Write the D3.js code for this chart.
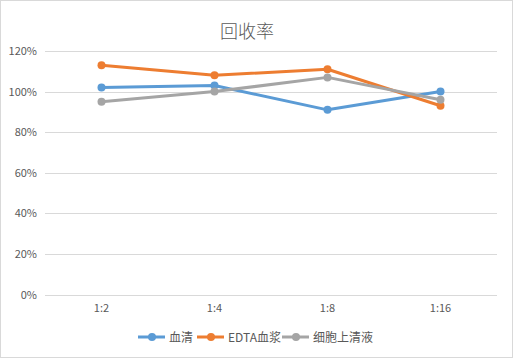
<!DOCTYPE html>
<html>
<head>
<meta charset="utf-8">
<script src="https://cdn.jsdelivr.net/npm/d3@7"></script>
<style>
  body { margin: 0; background: #fff; }
  text { font-family: "Noto Sans CJK SC", "Noto Sans", sans-serif; fill: #595959; }
</style>
</head>
<body>
<div class="container"></div>
<script>
var categories = ["1:2", "1:4", "1:8", "1:16"];
var seriesNames = ["血清", "EDTA血浆", "细胞上清液"];
var serum = [102, 103, 91, 100];
var plasma = [113, 108, 111, 93];
var supernatant = [95, 100, 107, 96];
var yTicks = [0, 20, 40, 60, 80, 100, 120];
var colors = ["#5b9bd5", "#ed7d31", "#a5a5a5"];

var series = [serum, plasma, supernatant];

var W = 513, H = 358;
var svg = d3.select(".container").append("svg")
  .attr("width", W).attr("height", H);

svg.append("rect")
  .attr("x", 0.5).attr("y", 0.5)
  .attr("width", W - 1).attr("height", H - 1)
  .attr("fill", "#fff").attr("stroke", "#d9d9d9");

var x = d3.scaleBand().domain(categories).range([45, 497]);
var y = d3.scaleLinear().domain([0, 120]).range([294.5, 51]);

// gridlines
svg.append("g")
  .selectAll("line")
  .data(yTicks)
  .enter().append("line")
  .attr("x1", 45).attr("x2", 497)
  .attr("y1", d => Math.round(y(d)) + 0.5)
  .attr("y2", d => Math.round(y(d)) + 0.5)
  .attr("stroke", "#d9d9d9")
  .attr("stroke-width", 1);

// y labels
svg.append("g")
  .selectAll("text")
  .data(yTicks)
  .enter().append("text")
  .attr("x", 37)
  .attr("y", d => y(d) + 4)
  .attr("text-anchor", "end")
  .style("font-size", "11px")
  .text(d => d + "%");

// x labels
svg.append("g")
  .selectAll("text")
  .data(categories)
  .enter().append("text")
  .attr("x", d => x(d) + x.bandwidth() / 2)
  .attr("y", 312)
  .attr("text-anchor", "middle")
  .style("font-size", "11px")
  .text(d => d);

// title
svg.append("text")
  .attr("x", 247).attr("y", 38)
  .attr("text-anchor", "middle")
  .style("font-size", "18px")
  .style("font-weight", "300")
  .text("回收率");

var line = d3.line()
  .x((d, i) => x(categories[i]) + x.bandwidth() / 2)
  .y(d => y(d));

series.forEach(function(vals, s) {
  var g = svg.append("g");
  g.append("path")
    .datum(vals)
    .attr("d", line)
    .attr("fill", "none")
    .attr("stroke", colors[s])
    .attr("stroke-width", 3)
    .attr("stroke-linejoin", "round")
    .attr("stroke-linecap", "round");
  g.selectAll("circle")
    .data(vals)
    .enter().append("circle")
    .attr("cx", (d, i) => x(categories[i]) + x.bandwidth() / 2)
    .attr("cy", d => y(d))
    .attr("r", 4)
    .attr("fill", colors[s]);
});

// legend
var legendX = [138, 197, 282];
var lg = svg.append("g");
seriesNames.forEach(function(name, s) {
  var lx = legendX[s];
  lg.append("line")
    .attr("x1", lx).attr("x2", lx + 27)
    .attr("y1", 337).attr("y2", 337)
    .attr("stroke", colors[s]).attr("stroke-width", 3);
  lg.append("circle")
    .attr("cx", lx + 14).attr("cy", 337).attr("r", 4)
    .attr("fill", colors[s]);
  lg.append("text")
    .attr("x", lx + 31).attr("y", 341.5)
    .style("font-size", "12px")
    .text(name);
});
</script>
</body>
</html>
